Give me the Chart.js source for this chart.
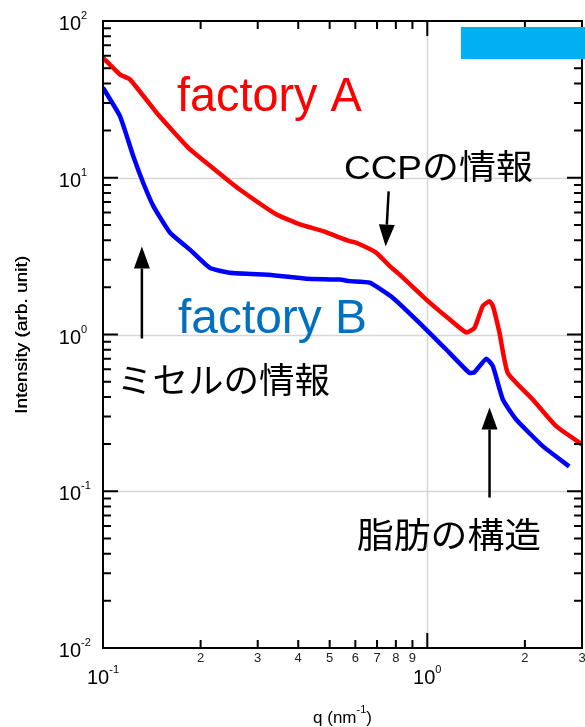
<!DOCTYPE html>
<html><head><meta charset="utf-8">
<script src="https://cdn.jsdelivr.net/npm/chart.js@4/dist/chart.umd.min.js"></script>
<style>html,body{margin:0;padding:0;background:#fff;} #wrap{width:585px;height:727px;position:relative;}</style>
</head><body><div id="wrap"><canvas id="c" width="585" height="727"></canvas></div>
<script>
// ---- data ----
const seriesNames = ['factory A', 'factory B'];
const qA = [0.1, 0.1128, 0.1211, 0.1463, 0.1853, 0.2348, 0.264, 0.343, 0.405, 0.477, 0.576, 0.604, 0.697, 0.766, 0.822, 0.993, 1.171, 1.318, 1.398, 1.483, 1.556, 1.593, 1.670, 1.771, 2.115, 2.497, 3.0];
const intensityA = [58.3, 45.6, 42.4, 26.0, 15.2, 10.2, 8.42, 5.83, 5.04, 4.56, 3.94, 3.85, 3.32, 2.73, 2.41, 1.67, 1.25, 1.03, 1.10, 1.52, 1.63, 1.52, 1.025, 0.569, 0.385, 0.260, 0.199];
const qB = [0.1, 0.1128, 0.124, 0.133, 0.143, 0.161, 0.185, 0.2136, 0.246, 0.3346, 0.424, 0.537, 0.576, 0.664, 0.784, 0.993, 1.171, 1.349, 1.398, 1.519, 1.593, 1.71, 1.88, 2.27, 2.74];
const intensityB = [37.5, 24.7, 13.7, 9.29, 6.59, 4.46, 3.49, 2.66, 2.48, 2.39, 2.27, 2.24, 2.19, 2.14, 1.71, 1.076, 0.764, 0.569, 0.575, 0.70, 0.628, 0.385, 0.287, 0.194, 0.144];

const yMajorTicks = [0.01, 0.1, 1, 10, 100];
const yMajorExponents = ['-2', '-1', '0', '1', '2'];
const xMajorTicks = [0.1, 1];
const xMajorExponents = ['-1', '0'];
const xMinorTicks = [0.2, 0.3, 0.4, 0.5, 0.6, 0.7, 0.8, 0.9, 2, 3];
const xMinorLabels = ['2', '3', '4', '5', '6', '7', '8', '9', '2', '3'];
const yTitle = 'Intensity (arb. unit)';
const xTitleBase = 'q (nm';
const xTitleSup = '-1';
const noteCCP = 'CCPの情報';
const noteMicelle = 'ミセルの情報';
const noteFat = '脂肪の構造';
// arrows anchored in data space: [qTail, ITail, qTip, ITip]
const arrowCCP = [0.760, 8.18, 0.744, 3.64];
const arrowMicelle = [0.1318, 0.943, 0.1318, 3.64];
const arrowFat = [1.556, 0.0912, 1.556, 0.342];

const LAT = '"Liberation Sans", Arial, sans-serif';
const JP = '"Liberation Sans", "Noto Sans CJK JP", sans-serif';

function fitBox(ctx, text, font, color, x0, y0, x1, y1) {
  ctx.save();
  ctx.font = font; ctx.fillStyle = color; ctx.textAlign = 'left'; ctx.textBaseline = 'alphabetic';
  const m = ctx.measureText(text);
  const w = m.actualBoundingBoxLeft + m.actualBoundingBoxRight;
  const h = m.actualBoundingBoxAscent + m.actualBoundingBoxDescent;
  ctx.translate(x0, y0);
  ctx.scale((x1 - x0) / w, (y1 - y0) / h);
  ctx.fillText(text, m.actualBoundingBoxLeft, m.actualBoundingBoxAscent);
  ctx.restore();
}
function arrow(ctx, x1, y1, x2, y2) {
  const ang = Math.atan2(y2 - y1, x2 - x1);
  const L = 22, W = 8;
  const bx = x2 - L * Math.cos(ang), by = y2 - L * Math.sin(ang);
  ctx.save();
  ctx.strokeStyle = '#000'; ctx.fillStyle = '#000'; ctx.lineWidth = 2.5;
  ctx.beginPath(); ctx.moveTo(x1, y1); ctx.lineTo(bx, by); ctx.stroke();
  ctx.beginPath();
  ctx.moveTo(x2, y2);
  ctx.lineTo(bx + W * Math.sin(ang), by - W * Math.cos(ang));
  ctx.lineTo(bx - W * Math.sin(ang), by + W * Math.cos(ang));
  ctx.closePath(); ctx.fill();
  ctx.restore();
}
function minorValues(decades, ks) {
  const out = [];
  decades.forEach(d => ks.forEach(k => out.push(k * d)));
  return out;
}

const decorPlugin = {
  id: 'decor',
  beforeDatasetsDraw(chart) {
    const ctx = chart.ctx, a = chart.chartArea, xs = chart.scales.x, ys = chart.scales.y;
    ctx.save();
    ctx.strokeStyle = '#d6d6d6'; ctx.lineWidth = 1.5;
    yMajorTicks.slice(1, -1).forEach(v => {
      const p = Math.round(ys.getPixelForValue(v)) + 0.5;
      ctx.beginPath(); ctx.moveTo(a.left, p); ctx.lineTo(a.right, p); ctx.stroke();
    });
    const px = Math.round(xs.getPixelForValue(xMajorTicks[1])) + 0.5;
    ctx.beginPath(); ctx.moveTo(px, a.top); ctx.lineTo(px, a.bottom); ctx.stroke();
    ctx.restore();
  },
  afterDatasetsDraw(chart) {
    const ctx = chart.ctx, a = chart.chartArea, xs = chart.scales.x, ys = chart.scales.y;
    ctx.save();
    // frame
    ctx.strokeStyle = '#000'; ctx.lineWidth = 2;
    ctx.strokeRect(a.left, a.top, a.right - a.left, a.bottom - a.top);
    // ticks
    const yMinor = minorValues([0.01, 0.1, 1, 10], [2, 3, 4, 5, 6, 7, 8, 9]);
    ctx.beginPath();
    yMinor.forEach(v => { const p = ys.getPixelForValue(v);
      ctx.moveTo(a.left, p); ctx.lineTo(a.left + 8, p); ctx.moveTo(a.right, p); ctx.lineTo(a.right - 8, p); });
    yMajorTicks.forEach(v => { const p = ys.getPixelForValue(v);
      ctx.moveTo(a.left, p); ctx.lineTo(a.left + 15, p); ctx.moveTo(a.right, p); ctx.lineTo(a.right - 15, p); });
    xMinorTicks.forEach(v => { const p = xs.getPixelForValue(v);
      ctx.moveTo(p, a.bottom); ctx.lineTo(p, a.bottom - 8); ctx.moveTo(p, a.top); ctx.lineTo(p, a.top + 8); });
    xMajorTicks.forEach(v => { const p = xs.getPixelForValue(v);
      ctx.moveTo(p, a.bottom); ctx.lineTo(p, a.bottom - 15); ctx.moveTo(p, a.top); ctx.lineTo(p, a.top + 15); });
    ctx.stroke();
    // y labels
    ctx.fillStyle = '#000';
    yMajorTicks.forEach((v, i) => {
      const p = ys.getPixelForValue(v);
      ctx.font = '20px ' + LAT; ctx.textAlign = 'right'; ctx.textBaseline = 'alphabetic';
      ctx.fillText('10', 81, p + 9);
      ctx.font = '11px ' + LAT; ctx.textAlign = 'left';
      ctx.fillText(yMajorExponents[i], 81, p - 2);
    });
    // x major labels
    xMajorTicks.forEach((v, i) => {
      const p = xs.getPixelForValue(v);
      ctx.font = '20px ' + LAT; const w1 = ctx.measureText('10').width;
      ctx.font = '11px ' + LAT; const w2 = ctx.measureText(xMajorExponents[i]).width;
      const x0 = p - (w1 + w2) / 2;
      ctx.textAlign = 'left'; ctx.textBaseline = 'alphabetic';
      ctx.font = '20px ' + LAT; ctx.fillText('10', x0, 684);
      ctx.font = '11px ' + LAT; ctx.fillText(xMajorExponents[i], x0 + w1, 673);
    });
    // x minor labels
    ctx.fillStyle = '#222'; ctx.font = '13px ' + LAT; ctx.textAlign = 'center';
    xMinorTicks.forEach((v, i) => ctx.fillText(xMinorLabels[i], xs.getPixelForValue(v), 662));
    // axis titles
    ctx.fillStyle = '#000';
    ctx.save();
    ctx.translate(27, 335); ctx.rotate(-Math.PI / 2);
    ctx.font = '16px ' + LAT; ctx.textAlign = 'center';
    const tw = ctx.measureText(yTitle).width;
    ctx.scale(158 / tw, 1);
    ctx.fillText(yTitle, 0, 0);
    ctx.fillText(yTitle, 0.3, 0);
    ctx.restore();
    ctx.font = '17px ' + LAT; ctx.textAlign = 'left';
    const b1 = ctx.measureText(xTitleBase).width;
    ctx.font = '11px ' + LAT; const b2 = ctx.measureText(xTitleSup).width;
    ctx.font = '17px ' + LAT; const b3 = ctx.measureText(')').width;
    const tx = (a.left + a.right) / 2 - (b1 + b2 + b3) / 2;
    ctx.fillText(xTitleBase, tx, 723);
    ctx.font = '11px ' + LAT; ctx.fillText(xTitleSup, tx + b1, 713);
    ctx.font = '17px ' + LAT; ctx.fillText(')', tx + b1 + b2, 723);
    // annotations
    fitBox(ctx, seriesNames[0], '40px ' + LAT, '#ff0000', 177, 75, 362, 121);
    fitBox(ctx, seriesNames[1], '40px ' + LAT, '#0070c0', 178, 297, 365, 343);
    fitBox(ctx, noteCCP, '35px ' + JP, '#000', 345, 150, 533, 183);
    fitBox(ctx, noteMicelle, '35px ' + JP, '#000', 122, 363, 330, 397);
    fitBox(ctx, noteFat, '36px ' + JP, '#000', 357, 517, 540, 552);
    [arrowCCP, arrowMicelle, arrowFat].forEach(r => arrow(ctx,
      xs.getPixelForValue(r[0]), ys.getPixelForValue(r[1]), xs.getPixelForValue(r[2]), ys.getPixelForValue(r[3])));
    // cyan block
    ctx.fillStyle = '#00b0f0';
    ctx.fillRect(461, 27, 124, 32);
    ctx.restore();
  }
};

new Chart(document.getElementById('c'), {
  type: 'line',
  data: {
    datasets: [
      { label: seriesNames[0], data: qA.map((q, i) => ({ x: q, y: intensityA[i] })), borderColor: '#ff0000', borderWidth: 4.5, pointRadius: 0, tension: 0.15, fill: false },
      { label: seriesNames[1], data: qB.map((q, i) => ({ x: q, y: intensityB[i] })), borderColor: '#0000ff', borderWidth: 4.5, pointRadius: 0, tension: 0.15, fill: false }
    ]
  },
  options: {
    responsive: false, animation: false, devicePixelRatio: 1,
    layout: { padding: { left: 103, right: 3, top: 21, bottom: 79 } },
    plugins: { legend: { display: false }, tooltip: { enabled: false } },
    scales: {
      x: { type: 'logarithmic', min: 0.1, max: 3, display: false },
      y: { type: 'logarithmic', min: 0.01, max: 100, display: false }
    }
  },
  plugins: [decorPlugin]
});
</script>
</body></html>
